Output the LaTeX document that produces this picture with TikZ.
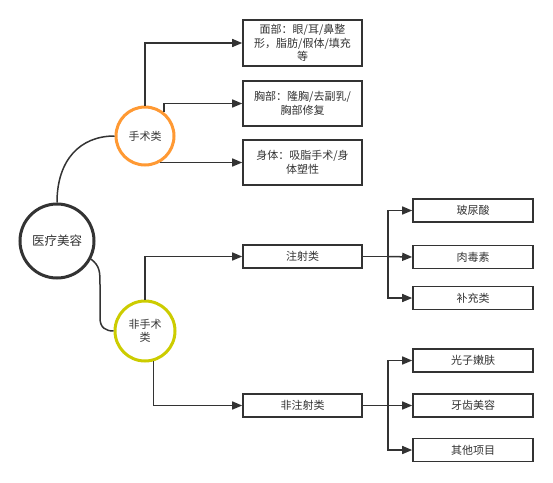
\documentclass[tikz,border=0pt]{standalone}
\usepackage{fontspec}
\setmainfont{Noto Sans CJK SC}
\usetikzlibrary{positioning}
\usetikzlibrary{positioning, arrows.meta}
\usetikzlibrary{shapes}
\definecolor{ink}{HTML}{333333}
\definecolor{ringorange}{HTML}{FF9933}
\definecolor{ringyellow}{HTML}{CCCC00}

\begin{document}
\begin{tikzpicture}[x=1pt,y=-1pt,
					font=\fontsize{11}{13.5}\selectfont, text=ink,
					ring/.style={circle,draw,line width=3pt,inner sep=0pt,align=center},
					box/.style={draw=ink,line width=1.6pt,fill=white,minimum width=119pt,inner sep=0pt,align=center},
					arr/.style={draw=ink,line width=1.5pt,-{Triangle[length=10pt,width=8pt]}},
					link/.style={draw=ink,line width=1.5pt}]
					\useasboundingbox (0,0) rectangle (553,482);
					\node[ring,draw=ink,minimum size=74pt,font=\fontsize{12.5}{15}\selectfont] (root) at (57,241) {医疗美容};
					\node[ring,draw=ringorange,minimum size=58pt] (surg) at (145,136) {手术类};
					\node[ring,draw=ringyellow,minimum size=60pt] (nonsurg) at (145,331) {非手术\\类};
					\node[box,minimum height=46pt] (face) at (302.5,43) {面部：眼/耳/鼻整\\形，脂肪/假体/填充\\等};
					\node[box,minimum height=45pt] (chest) at (302.5,103.5) {胸部：隆胸/去副乳/\\胸部修复};
					\node[box,minimum height=45pt] (body) at (302.5,162.5) {身体：吸脂手术/身\\体塑性};
					\node[box,minimum height=23pt] (inj) at (302.5,256.5) {注射类};
					\node[box,minimum height=23pt] (noninj) at (302.5,405.5) {非注射类};
					\node[box,minimum height=23pt,minimum width=120pt] (hya) at (473,210.5) {玻尿酸};
					\node[box,minimum height=23pt,minimum width=120pt] (botox) at (473,257) {肉毒素};
					\node[box,minimum height=23pt,minimum width=120pt] (filler) at (473,298) {补充类};
					\node[box,minimum height=23pt,minimum width=120pt] (photo) at (473,360.5) {光子嫩肤};
					\node[box,minimum height=23pt,minimum width=120pt] (teeth) at (473,405.5) {牙齿美容};
					\node[box,minimum height=23pt,minimum width=120pt] (other) at (473,450) {其他项目};
					\coordinate (injfork) at (388,256.5);
					\coordinate (noninjfork) at (388,405.5);
					\draw[link] (root.north) .. controls (57,160) and (80,136) .. (surg.west);
					\draw[link] (root.-28) .. controls (100,266) and (100,272) .. (100,285) -- (100,318) .. controls (100,328) and (106,331) .. (nonsurg.west);
					\draw[arr] (surg.north) |- (face.west);
					\draw[arr] (surg.52) |- (chest.west);
					\draw[arr] (surg.-58) |- (body.west);
					\draw[arr] (nonsurg.north) |- (inj.west);
					\draw[arr] (nonsurg.-74) |- (noninj.west);
					\draw[link] (inj.east) -- (injfork);
					\draw[arr] (injfork) |- (hya.west);
					\draw[arr] (injfork) -- (botox.west);
					\draw[arr] (injfork) |- (filler.west);
					\draw[link] (noninj.east) -- (noninjfork);
					\draw[arr] (noninjfork) |- (photo.west);
					\draw[arr] (noninjfork) -- (teeth.west);
					\draw[arr] (noninjfork) |- (other.west);
				\end{tikzpicture}
\end{document}
